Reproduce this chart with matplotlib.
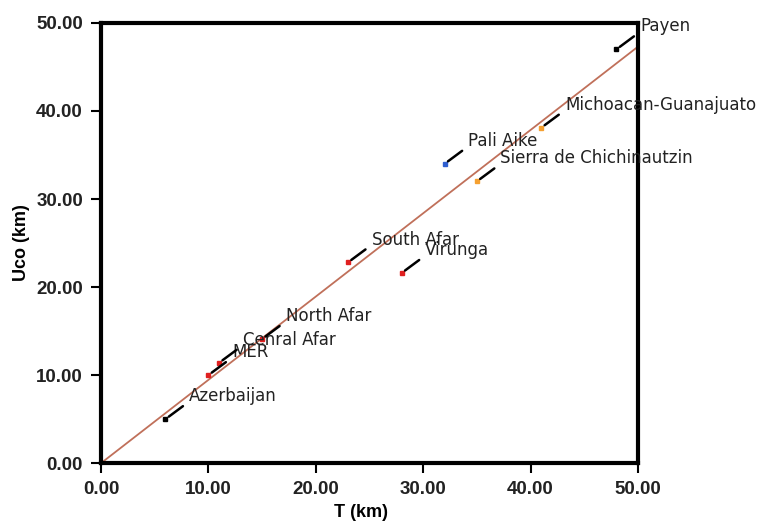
import matplotlib.pyplot as plt

# volcanic fields: crustal thickness T vs Uco
names = ["Azerbaijan", "MER", "Cenral Afar", "North Afar", "South Afar", "Virunga",
         "Pali Aike", "Sierra de Chichinautzin", "Michoacan-Guanajuato", "Payen"]
t_km = [6, 10, 11, 15, 23, 28, 32, 35, 41, 48]
uco_km = [5.0, 10.0, 11.4, 14.1, 22.8, 21.6, 34.0, 32.0, 38.1, 47.0]
colors = ["black", "#e02020", "#e02020", "#e02020", "#e02020", "#e02020",
          "#2f5fd0", "#f5a030", "#f5a030", "black"]

# fit line
fit_x = [0, 50]
fit_y = [0, 47.3]

fig = plt.figure(figsize=(7.77, 5.21), dpi=100)
ax = fig.add_axes([0.130, 0.111, 0.691, 0.845])

ax.plot(fit_x, fit_y, color="#c0705a", lw=1.3, zorder=2)
for x, y, c, n in zip(t_km, uco_km, colors, names):
    ax.plot(x, y, marker="s", ms=3.5, color=c, ls="none", zorder=3)
    ax.annotate(n, xy=(x, y), xytext=(17, 16.5), textcoords="offset points",
                ha="left", va="center", fontsize=12, family="DejaVu Sans",
                color="#222222",
                arrowprops=dict(arrowstyle="-", color="black", lw=1.8,
                                shrinkA=3, shrinkB=3, relpos=(0, 0.2)),
                zorder=4, annotation_clip=False)

ax.set_xlim(0, 50)
ax.set_ylim(0, 50)
ticks = [0, 10, 20, 30, 40, 50]
ax.set_xticks(ticks)
ax.set_yticks(ticks)
ax.set_xticklabels([f"{v:.2f}" for v in ticks])
ax.set_yticklabels([f"{v:.2f}" for v in ticks])
for lab in ax.get_xticklabels() + ax.get_yticklabels():
    lab.set_fontfamily("Liberation Sans")
    lab.set_fontweight("bold")
    lab.set_fontsize(13.5)
    lab.set_color("#222222")

ax.tick_params(direction="out", length=7, width=1.5, pad=6)
for sp in ax.spines.values():
    sp.set_linewidth(3)

ax.set_xlabel("T (km)", fontfamily="Liberation Sans", fontweight="bold",
              fontsize=13)
ax.xaxis.set_label_coords(0.485, -0.093)
ax.set_ylabel("Uco (km)", fontfamily="Liberation Sans", fontweight="bold",
              fontsize=13)
ax.yaxis.set_label_coords(-0.133, 0.5)

fig.savefig("out.png", dpi=100)
